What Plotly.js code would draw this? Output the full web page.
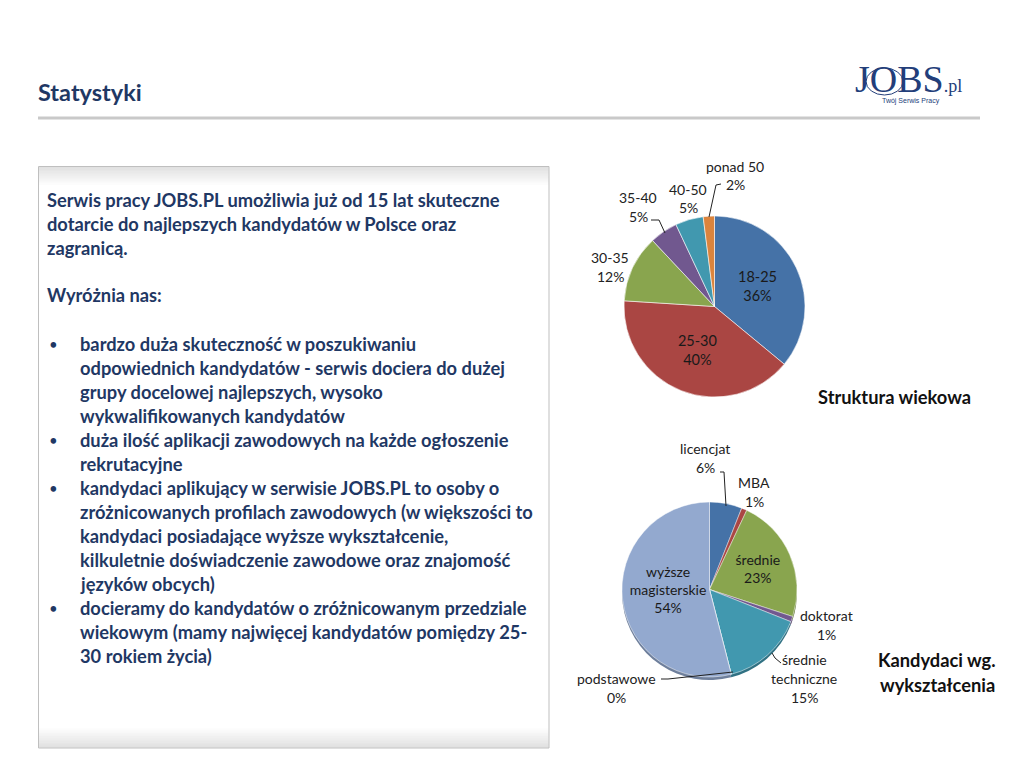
<!DOCTYPE html>
<html>
<head>
<meta charset="utf-8">
<script src="https://cdn.plot.ly/plotly-3.0.1.min.js"></script>
<style>html,body{margin:0;padding:0;background:#fff;}#chart{width:1024px;height:768px;}</style>
</head>
<body>
<div id="chart"></div>
<script>
// ---- data ----
const ageLabels = ["18-25", "25-30", "30-35", "35-40", "40-50", "ponad 50"];
const ageValues = [36, 40, 12, 5, 5, 2];
const ageColors = ["#4572A7", "#AA4643", "#89A54E", "#71588F", "#4198AF", "#DB843D"];

const eduLabels = ["licencjat", "MBA", "średnie", "doktorat", "średnie techniczne", "podstawowe", "wyższe magisterskie"];
const eduValues = [6, 1, 23, 1, 15, 0, 54];
const eduColors = ["#4572A7", "#AA4643", "#89A54E", "#71588F", "#4198AF", "#DB843D", "#93A9CF"];
const eduShadow = ["#35577F", "#7F3432", "#66793A", "#54416A", "#307183", "#A4622D", "#6E7F9C"];

const introLines = [
  "Serwis pracy JOBS.PL umożliwia już od 15 lat skuteczne",
  "dotarcie do najlepszych kandydatów w Polsce oraz",
  "zagranicą."
];
const headLine = "Wyróżnia nas:";
const bullets = [
  ["bardzo duża skuteczność w poszukiwaniu", "odpowiednich kandydatów - serwis dociera do dużej", "grupy docelowej najlepszych, wysoko", "wykwalifikowanych kandydatów"],
  ["duża ilość aplikacji zawodowych na każde ogłoszenie", "rekrutacyjne"],
  ["kandydaci aplikujący w serwisie JOBS.PL to osoby o", "zróżnicowanych profilach zawodowych (w większości to", "kandydaci posiadające wyższe wykształcenie,", "kilkuletnie doświadczenie zawodowe oraz znajomość", "języków obcych)"],
  ["docieramy do kandydatów o zróżnicowanym przedziale", "wiekowym (mamy najwięcej kandydatów pomiędzy 25-", "30 rokiem życia)"]
];

// ---- helpers (pixel -> paper) ----
const W = 1024, H = 768;
const px = x => x / W;
const py = y => 1 - y / H;

const NAVY = "#1F3864";
const BODY_FONT = "Lato, 'Open Sans', sans-serif";
const LBL_FONT = "Lato, 'Open Sans', sans-serif";

const annotations = [];
const shapes = [];

function txt(text, x, y, opts) {
  opts = opts || {};
  annotations.push(Object.assign({
    text: text, x: px(x), y: py(y), xref: "paper", yref: "paper",
    xanchor: opts.xanchor || "left", yanchor: opts.yanchor || "middle", showarrow: false,
    font: Object.assign({family: BODY_FONT, size: 18.3, color: NAVY}, opts.font || {})
  }, opts.extra || {}));
}

// header
txt("<b>Statystyki</b>", 36, 92, {font: {size: 23.5}});
shapes.push({type: "line", xref: "paper", yref: "paper", x0: px(38), x1: px(980), y0: py(118), y1: py(118), line: {color: "#C9C9C9", width: 3}});

// logo
txt("JOBS<span style='font-size:18px'>.pl</span>", 853, 79, {font: {family: "'Liberation Serif', serif", size: 38, color: "#233E7A"}});
txt("Twój Serwis Pracy", 880, 101, {font: {family: "'Liberation Sans', sans-serif", size: 7, color: "#233E7A"}});
shapes.push({type: "circle", xref: "paper", yref: "paper", x0: px(866), x1: px(903), y0: py(95), y1: py(68), line: {color: "#233E7A", width: 1}});

// text box with gradient top/bottom
shapes.push({type: "rect", xref: "paper", yref: "paper", x0: px(38.5), x1: px(549), y0: py(166.5), y1: py(748), line: {color: "#BFBFBF", width: 1}, fillcolor: "#FFFFFF", layer: "below"});
for (let i = 0; i < 12; i++) {
  const op = 0.22 * (1 - i / 12);
  shapes.push({type: "rect", xref: "paper", yref: "paper", x0: px(39), x1: px(548.5), y0: py(167 + i * 1.5), y1: py(168.5 + i * 1.5), line: {width: 0}, fillcolor: "rgba(120,120,120," + op.toFixed(3) + ")", layer: "below"});
  shapes.push({type: "rect", xref: "paper", yref: "paper", x0: px(39), x1: px(548.5), y0: py(747.5 - i * 1.6), y1: py(745.9 - i * 1.6), line: {width: 0}, fillcolor: "rgba(120,120,120," + op.toFixed(3) + ")", layer: "below"});
}

// body text
const LH = 24;
let y = 200;
introLines.forEach(l => { txt("<b>" + l + "</b>", 45, y); y += LH; });
y = 295;
txt("<b>" + headLine + "</b>", 45, y);
y = 344;
bullets.forEach(b => {
  txt("•", 47, y, {font: {size: 15}});
  b.forEach(l => { txt("<b>" + l + "</b>", 78, y); y += LH; });
});

// chart titles
txt("<b>Struktura wiekowa</b>", 973, 397, {xanchor: "right", font: {color: "#111111", size: 18.3}});
txt("<b>Kandydaci wg.</b>", 937, 660, {xanchor: "center", font: {color: "#111111", size: 18.3}});
txt("<b>wykształcenia</b>", 937, 685, {xanchor: "center", font: {color: "#111111", size: 18.3}});

// outside pie labels
function plabel(lines, x, y0, size) {
  size = size || 14;
  lines.forEach((l, i) => {
    annotations.push({text: l, x: px(x), y: py(y0 + i * 19), xref: "paper", yref: "paper", xanchor: "center", yanchor: "middle", showarrow: false,
      font: {family: LBL_FONT, size: size, color: "#222222"}});
  });
}
function leader(pts) {
  const path = "M" + pts.map(p => px(p[0]) + "," + py(p[1])).join(" L");
  shapes.push({type: "path", xref: "paper", yref: "paper", path: path, line: {color: "#222222", width: 1}});
}
function pct(v) { return v + "%"; }

// age chart outside labels
plabel([ageLabels[2], pct(ageValues[2])], 610, 257);
plabel([ageLabels[3], pct(ageValues[3])], 638, 197);
plabel([ageLabels[4], pct(ageValues[4])], 688, 189);
plabel([ageLabels[5], pct(ageValues[5])], 735, 166);
leader([[651, 220], [659, 220], [665, 233]]);
leader([[721, 184], [716, 185], [709, 217]]);

// edu chart outside labels
plabel([eduLabels[0], pct(eduValues[0])], 705, 448);
plabel([eduLabels[1], pct(eduValues[1])], 754, 482);
plabel([eduLabels[3], pct(eduValues[3])], 826, 615);
plabel(["średnie", "techniczne", pct(eduValues[4])], 804, 659);
plabel([eduLabels[5], pct(eduValues[5])], 616, 678);
leader([[720, 472], [724, 472], [726, 506]]);
leader([[781, 663], [775, 658], [772, 653]]);
leader([[661, 679], [668, 679], [733, 672]]);

// ---- traces ----
const ageText = ageLabels.map((l, i) => (i < 2 ? l + "<br>" + pct(ageValues[i]) : ""));
const eduText = eduLabels.map((l, i) => {
  if (i === 2) return l + "<br>" + pct(eduValues[i]);
  if (i === 6) return "wyższe<br>magisterskie<br>" + pct(eduValues[i]);
  return "";
});

const agePie = {
  type: "pie", labels: ageLabels, values: ageValues, sort: false, direction: "clockwise", rotation: 0,
  marker: {colors: ageColors, line: {color: "rgba(255,255,255,0.7)", width: 0.8}},
  text: ageText, textinfo: "text", textposition: "inside", insidetextorientation: "horizontal",
  textfont: {family: LBL_FONT, size: 14.5, color: "#1a1a1a"},
  hoverinfo: "label+percent",
  domain: {x: [px(624), px(805)], y: [py(397), py(216)]}
};

const eduShadowPie = {
  type: "pie", labels: eduLabels, values: eduValues, sort: false, direction: "clockwise", rotation: 0,
  marker: {colors: eduShadow, line: {width: 0}},
  textinfo: "none", hoverinfo: "skip",
  domain: {x: [px(622), px(797)], y: [py(680), py(505)]}
};
const eduPie = {
  type: "pie", labels: eduLabels, values: eduValues, sort: false, direction: "clockwise", rotation: 0,
  marker: {colors: eduColors, line: {color: "rgba(255,255,255,0.6)", width: 0.8}},
  text: eduText, textinfo: "text", textposition: "inside", insidetextorientation: "horizontal",
  textfont: {family: LBL_FONT, size: 14, color: "#1a1a1a"},
  hoverinfo: "label+percent",
  domain: {x: [px(622), px(797)], y: [py(677), py(502)]}
};

const layout = {
  width: W, height: H, margin: {l: 0, r: 0, t: 0, b: 0},
  paper_bgcolor: "#FFFFFF", plot_bgcolor: "#FFFFFF",
  showlegend: false, annotations: annotations, shapes: shapes
};

Plotly.newPlot("chart", [agePie, eduShadowPie, eduPie], layout, {displayModeBar: false, staticPlot: true});
</script>
</body>
</html>
